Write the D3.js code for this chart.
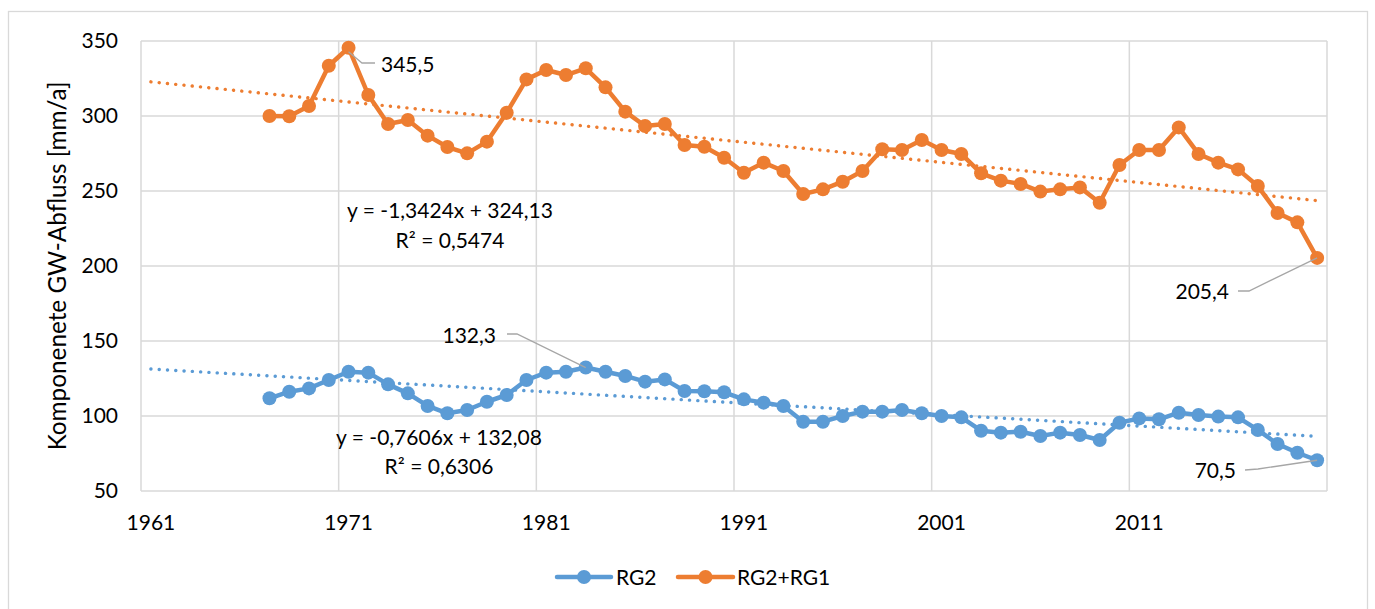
<!DOCTYPE html>
<html>
<head>
<meta charset="utf-8">
<script src="https://cdn.jsdelivr.net/npm/d3@7"></script>
<style>
  html, body { margin: 0; padding: 0; background: #fff; }
  svg { display: block; font-family: Lato, "Open Sans", sans-serif; }
</style>
</head>
<body>
<svg id="chart" width="1375" height="609"></svg>
<script>
// ---- data ----
const categories = d3.range(1961, 2021); // category axis 1961..2020
const years = d3.range(1967, 2021);
const rg2 = [111.8, 116.2, 118.4, 124.0, 129.5, 128.9, 121.1, 115.1, 106.7, 101.8,
             104.0, 109.5, 114.0, 124.0, 128.9, 129.5, 132.3, 129.5, 126.7, 122.9,
             124.4, 116.7, 116.5, 115.8, 111.1, 108.9, 106.7, 96.2, 96.2, 100.0,
             102.9, 102.9, 104.0, 101.8, 100.0, 99.1, 90.2, 88.9, 89.5, 86.7,
             88.9, 87.3, 84.0, 95.5, 98.4, 97.8, 102.2, 100.7, 99.6, 99.1,
             90.7, 81.3, 75.5, 70.5];
const rg2rg1 = [300.0, 299.8, 306.7, 333.5, 345.5, 314.0, 294.7, 297.3, 286.9, 279.3,
                275.1, 282.9, 302.2, 324.4, 330.7, 327.3, 331.8, 319.1, 302.9, 293.3,
                294.7, 280.7, 279.5, 272.2, 262.2, 268.9, 263.3, 248.0, 251.1, 256.2,
                263.3, 277.8, 277.3, 284.0, 277.3, 274.7, 261.8, 256.9, 254.7, 249.6,
                251.1, 252.4, 242.2, 267.3, 277.3, 277.3, 292.4, 274.7, 268.9, 264.4,
                253.3, 235.3, 229.1, 205.4];
const trendRG2 = { slope: -0.7606, intercept: 132.08, label1: "y = -0,7606x + 132,08", label2: "R² = 0,6306" };
const trendSum = { slope: -1.3424, intercept: 324.13, label1: "y = -1,3424x + 324,13", label2: "R² = 0,5474" };
const yTicks = [50, 100, 150, 200, 250, 300, 350];
const xTickLabels = [1961, 1971, 1981, 1991, 2001, 2011];
const seriesNames = ["RG2", "RG2+RG1"];
const dataLabels = [
  { series: 1, year: 1971, text: "345,5" },
  { series: 0, year: 1983, text: "132,3" },
  { series: 1, year: 2020, text: "205,4" },
  { series: 0, year: 2020, text: "70,5" }
];

// ---- layout ----
const FS = 21;
const colors = ["#5b9bd5", "#ed7d31"];
const svg = d3.select("#chart");
const L = 141, R = 1327, T = 41, B = 491;

svg.append("rect").attr("x", 8.5).attr("y", 11.5).attr("width", 1359).attr("height", 620)
  .attr("fill", "#fff").attr("stroke", "#d9d9d9").attr("stroke-width", 1.3);

const x = d3.scaleBand().domain(categories).range([L, R]).paddingInner(0).paddingOuter(0);
const xc = yr => x(yr) + x.bandwidth() / 2;
const y = d3.scaleLinear().domain([50, 350]).range([B, T]);

// gridlines
const grid = svg.append("g");
grid.selectAll(".hg").data(yTicks).join("line")
  .attr("x1", L).attr("x2", R).attr("y1", d => y(d)).attr("y2", d => y(d))
  .attr("stroke", "#d9d9d9").attr("stroke-width", 1.5);
const vLines = xTickLabels.map(d => x(d)).concat([R]);
grid.selectAll(".vg").data(vLines).join("line")
  .attr("x1", d => d).attr("x2", d => d).attr("y1", T).attr("y2", B)
  .attr("stroke", "#d9d9d9").attr("stroke-width", 1.5);

// y axis labels
const yAxis = d3.axisLeft(y).tickValues(yTicks).tickSize(0).tickPadding(0);
const gy = svg.append("g").attr("transform", `translate(${118},0)`).call(yAxis);
gy.select(".domain").remove();
gy.selectAll("text").attr("font-size", FS).attr("fill", "#000").attr("font-family", "Lato, sans-serif");

// x axis labels
const xAxis = d3.axisBottom(x).tickValues(xTickLabels).tickSize(0).tickPadding(0);
const gx = svg.append("g").attr("transform", `translate(0,${B + 26})`).call(xAxis);
gx.select(".domain").remove();
gx.selectAll("text").attr("font-size", FS).attr("fill", "#000").attr("font-family", "Lato, sans-serif").attr("dy", "0.6em");

// y title
svg.append("text").attr("transform", `translate(66,${(T + B) / 2}) rotate(-90)`)
  .attr("text-anchor", "middle").attr("font-size", 24.3).attr("fill", "#000")
  .text("Komponenete GW-Abfluss [mm/a]");

// trendlines (category index x = 1..60)
[trendRG2, trendSum].forEach((t, i) => {
  const pts = categories.map((c, k) => [xc(c), y(t.slope * (k + 1) + t.intercept)]);
  svg.append("path").attr("d", d3.line()(pts)).attr("fill", "none")
    .attr("stroke", colors[i]).attr("stroke-width", 3.4)
    .attr("stroke-linecap", "round").attr("stroke-dasharray", "0.1 8.2");
});

// series
[rg2, rg2rg1].forEach((vals, i) => {
  const pts = years.map((yr, k) => [xc(yr), y(vals[k])]);
  svg.append("path").attr("d", d3.line()(pts)).attr("fill", "none")
    .attr("stroke", colors[i]).attr("stroke-width", 4.5).attr("stroke-linejoin", "round");
  svg.append("g").selectAll("circle").data(pts).join("circle")
    .attr("cx", d => d[0]).attr("cy", d => d[1]).attr("r", 7).attr("fill", colors[i]);
});

// trend labels
const eqPos = [ { cx: 439, y1: 445, y2: 474 }, { cx: 450, y1: 218, y2: 248 } ];
[trendRG2, trendSum].forEach((t, i) => {
  const g = svg.append("g").attr("font-size", FS).attr("fill", "#000").attr("text-anchor", "middle");
  g.append("text").attr("x", eqPos[i].cx).attr("y", eqPos[i].y1).text(t.label1);
  g.append("text").attr("x", eqPos[i].cx).attr("y", eqPos[i].y2).text(t.label2);
});

// data labels with leader lines
const labelLayout = [
  { tx: 381, ty: 72, anchor: "start", leader: p => [[p[0], p[1] + 4], [362, 63], [375, 63]] },
  { tx: 496, ty: 343, anchor: "end", leader: p => [[507, 334], [517, 334], [p[0], p[1]]] },
  { tx: 1229, ty: 299, anchor: "end", leader: p => [[1238, 291], [1249, 291], [p[0], p[1]]] },
  { tx: 1236, ty: 478, anchor: "end", leader: p => [[1245, 470], [1258, 469], [p[0], p[1]]] }
];
dataLabels.forEach((d, k) => {
  const vals = d.series === 0 ? rg2 : rg2rg1;
  const p = [xc(d.year), y(vals[years.indexOf(d.year)])];
  const lay = labelLayout[k];
  svg.append("path").attr("d", d3.line()(lay.leader(p))).attr("fill", "none")
    .attr("stroke", "#a6a6a6").attr("stroke-width", 1.3);
  svg.append("text").attr("x", lay.tx).attr("y", lay.ty).attr("text-anchor", lay.anchor)
    .attr("font-size", FS).attr("fill", "#000").text(d.text);
});

// legend
const legend = svg.append("g");
const legItems = [ { x1: 557, x2: 611, tx: 616 }, { x1: 678, x2: 733, tx: 737 } ];
legItems.forEach((li, i) => {
  legend.append("line").attr("x1", li.x1).attr("x2", li.x2).attr("y1", 577).attr("y2", 577)
    .attr("stroke", colors[i]).attr("stroke-width", 4.5).attr("stroke-linecap", "round");
  legend.append("circle").attr("cx", (li.x1 + li.x2) / 2).attr("cy", 577).attr("r", 7).attr("fill", colors[i]);
  legend.append("text").attr("x", li.tx).attr("y", 584.5).attr("font-size", FS).attr("fill", "#000").text(seriesNames[i]);
});
</script>
</body>
</html>
